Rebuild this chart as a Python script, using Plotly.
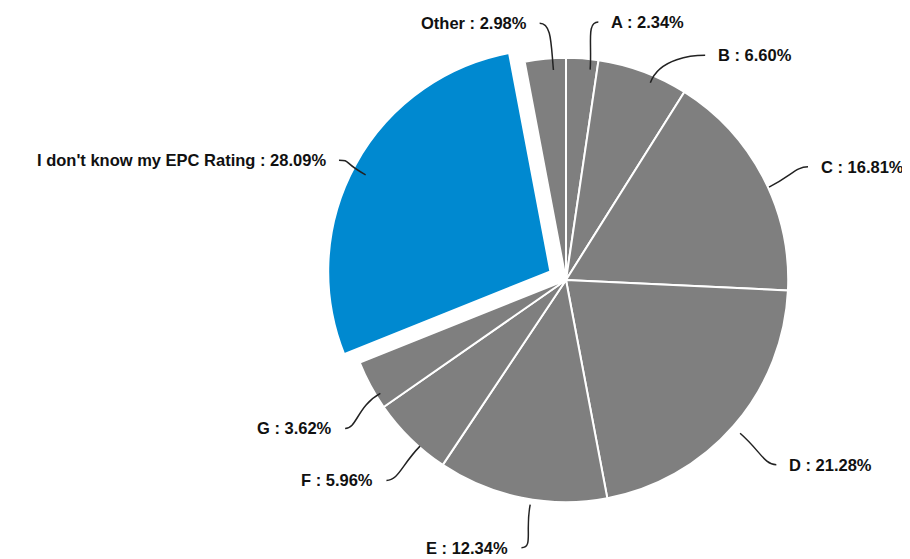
import math
import plotly.graph_objects as go

# EPC rating share
labels = ["A", "B", "C", "D", "E", "F", "G", "I don't know my EPC Rating", "Other"]
values = [2.34, 6.60, 16.81, 21.28, 12.34, 5.96, 3.62, 28.09, 2.98]
pulls = [0, 0, 0, 0, 0, 0, 0, 0.08, 0]

GREY = "#7f7f7f"
BLUE = "#0089d0"
colors = [BLUE if p > 0 else GREY for p in pulls]

# label placement: angle nudge (deg) and distance from centre (px)
nudge = [1, 9, 0, 0, 0, 0, -3, 0, -2]
lab_r = [268, 268, 264, 268, 264, 268, 268, 268, 268]

W, H = 910, 559
cx, cy = 566, H - 281      # pie centre, px from bottom-left
R = 220
half = R * (1 + max(pulls)) * 1.01
# plotly recentres a pie with a pulled slice; compensate
dcx, dcy = cx - 8, cy + 9

fig = go.Figure(go.Pie(
    labels=labels,
    values=values,
    pull=pulls,
    sort=False,
    direction="clockwise",
    rotation=0,
    marker=dict(colors=colors, line=dict(color="white", width=2)),
    textinfo="none",
    hoverinfo="label+percent",
    showlegend=False,
    domain=dict(x=[(dcx - half) / W, (dcx + half) / W],
                y=[(dcy - half) / H, (dcy + half) / H]),
))

total = sum(values)
shapes, annotations = [], []
cum = 0
for lab, v, p, nd, lr in zip(labels, values, pulls, nudge, lab_r):
    mid = (cum + v / 2) / total * 2 * math.pi
    cum += v
    dx, dy = math.sin(mid), math.cos(mid)
    ox, oy = cx + p * R * dx, cy + p * R * dy
    x0, y0 = ox + R * dx, oy + R * dy
    ax, ay = ox + R * 1.12 * dx, oy + R * 1.12 * dy
    la = mid + math.radians(nd)
    x1, y1 = cx + lr * math.sin(la), cy + lr * math.cos(la)
    right = math.sin(la) >= 0
    bx, by = x1 + (-12 if right else 12), y1
    tx = x1 + (11 if right else -11)
    shapes.append(dict(
        type="path", xref="paper", yref="paper",
        path=(f"M {x0/W},{y0/H} C {ax/W},{ay/H} {bx/W},{by/H} "
              f"{x1/W},{y1/H}"),
        line=dict(color="#222222", width=1.5),
    ))
    annotations.append(dict(
        x=tx / W, y=y1 / H, xref="paper", yref="paper",
        text=f"<b>{lab} : {v:.2f}%</b>", showarrow=False,
        xanchor="left" if right else "right", yanchor="middle",
        font=dict(family="Liberation Sans, Arial", size=16.5, color="#111111"),
    ))

fig.update_layout(
    width=W, height=H,
    margin=dict(l=0, r=0, t=0, b=0),
    paper_bgcolor="white",
    plot_bgcolor="white",
    shapes=shapes,
    annotations=annotations,
)

fig.write_html("out.html")
